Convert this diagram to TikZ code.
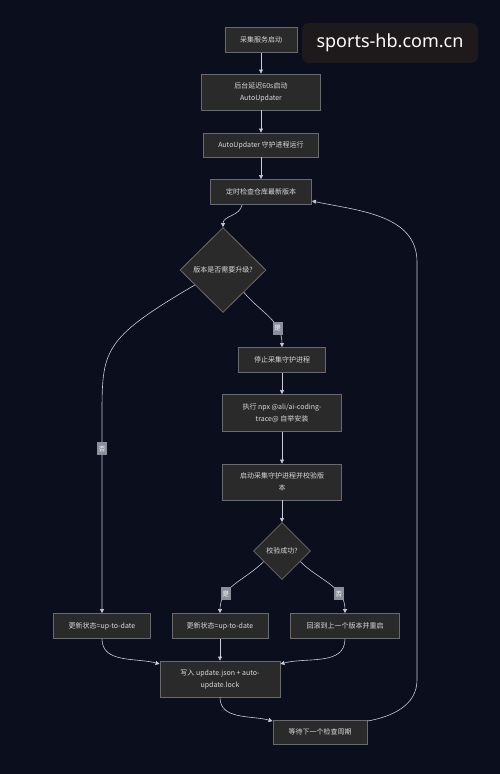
\documentclass[tikz,border=0pt]{standalone}
\usepackage{fontspec}
\setmainfont{Noto Sans CJK SC}
\newfontfamily\markfont{Noto Sans}
\usetikzlibrary{shapes.geometric,arrows.meta,calc}
\definecolor{bgnavy}{HTML}{0A0E1D}
\definecolor{boxfill}{HTML}{2A2A2A}
\definecolor{boxline}{HTML}{6A6A6A}
\definecolor{flowline}{HTML}{C9CBD6}
\definecolor{boxtext}{HTML}{DADADA}
\definecolor{tagfill}{HTML}{8A8F9C}
\definecolor{markfill}{HTML}{1E1A1B}

\begin{document}
\begin{tikzpicture}[
    x=1pt, y=-1pt,
    every node/.style={inner sep=0pt, text=boxtext,
        font=\fontsize{7}{12}\selectfont},
    StepShape/.style={rectangle, draw=boxline, fill=boxfill,
        line width=0.8pt, align=center},
    ChoiceShape/.style={diamond, aspect=1, draw=boxline, fill=boxfill,
        line width=0.8pt},
    TagShape/.style={rectangle, fill=tagfill, minimum width=10pt,
        minimum height=13pt, text=white!90,
        font=\fontsize{6.5}{6.5}\selectfont},
    flow/.style={draw=flowline, line width=0.6pt,
        -{Triangle[length=4pt,width=4pt]}}
]
\useasboundingbox (0,0) rectangle (500,774);
\fill[bgnavy] (0,0) rectangle (500,774);

\node (mark) [rectangle, rounded corners=7pt, fill=markfill,
    minimum width=176pt, minimum height=40pt, text=white,
    font=\markfont\fontsize{18}{18}\selectfont] at (390,43) {sports-hb.com.cn};

% main column
\node (start) [StepShape, minimum width=72pt, minimum height=25pt] at (261,40) {采集服务启动};
\node (delay) [StepShape, minimum width=119pt, minimum height=36pt] at (261,92) {后台延迟60s启动\\AutoUpdater};
\node (daemon) [StepShape, minimum width=115pt, minimum height=24pt] at (261,145) {AutoUpdater 守护进程运行};
\node (check) [StepShape, minimum width=101pt, minimum height=25pt] at (261,192) {定时检查仓库最新版本};
\node (needUp) [ChoiceShape, minimum width=86pt, minimum height=85pt] at (223,270) {版本是否需要升级?};

% upgrade branch
\node (stop) [StepShape, minimum width=87pt, minimum height=25pt] at (282,360) {停止采集守护进程};
\node (install) [StepShape, minimum width=119pt, minimum height=37pt] at (282,413) {执行 npx @ali/ai-coding-\\trace@ 自举安装};
\node (restart) [StepShape, minimum width=119pt, minimum height=36pt] at (282,482) {启动采集守护进程并校验版\\本};
\node (verified) [ChoiceShape, minimum width=57pt, minimum height=57pt] at (282,551) {校验成功?};

% results
\node (skipDone) [StepShape, minimum width=97pt, minimum height=25pt] at (102,626) {更新状态=up-to-date};
\node (okDone) [StepShape, minimum width=96pt, minimum height=25pt] at (220,626) {更新状态=up-to-date};
\node (rollback) [StepShape, minimum width=109pt, minimum height=25pt] at (345,626) {回滚到上一个版本并重启};
\node (write) [StepShape, minimum width=120pt, minimum height=36pt] at (220,679) {写入 update.json + auto-\\update.lock};
\node (wait) [StepShape, minimum width=94pt, minimum height=24pt] at (320,732) {等待下一个检查周期};

\coordinate (leftBend) at (102,420);
\coordinate (loopLow) at (417,680);
\coordinate (loopHigh) at (417,262);

\draw[flow] (start) -- (delay);
\draw[flow] (delay) -- (daemon);
\draw[flow] (daemon) -- (check);
\draw[flow] ($(check.south)+(-19,0)$) to[out=-100,in=90] (needUp.north);
\draw[flow] (needUp.-47) to[out=-50,in=90] node[TagShape,pos=0.72] {是} (stop.north);
\draw[flow] (needUp.208) .. controls (101,340) and (102,350) .. (leftBend)
    -- node[TagShape,pos=0.15] {否} (skipDone.north);
\draw[flow] (stop) -- (install);
\draw[flow] (install) -- (restart);
\draw[flow] (restart) -- (verified);
\draw[flow] (verified.210) to[out=-135,in=90] node[TagShape,pos=0.7] {是} (okDone.north);
\draw[flow] (verified.-30) to[out=-45,in=90] node[TagShape,pos=0.7] {否} (rollback.north);
\draw[flow] (skipDone.south) to[out=-90,in=165] (write.166);
\draw[flow] (okDone) -- (write);
\draw[flow] (rollback.south) to[out=-90,in=15] (write.14);
\draw[flow] (write.south) to[out=-90,in=165] (wait.167);
\draw[flow] (wait.13) to[out=10,in=-90] (loopLow) -- (loopHigh)
    to[out=90,in=-12] (check.-10);
\end{tikzpicture}
\end{document}
